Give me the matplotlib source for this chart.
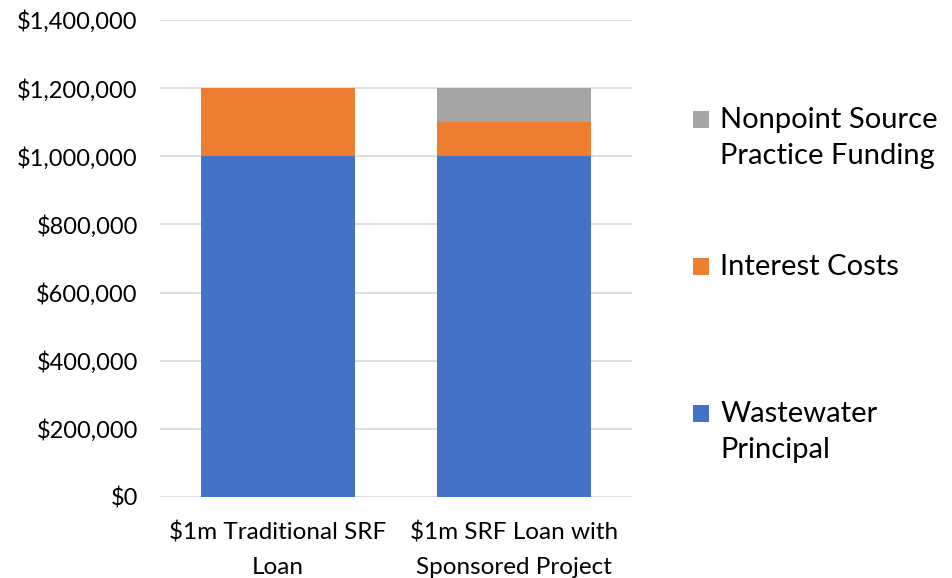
import matplotlib
matplotlib.use("Agg")
import matplotlib.pyplot as plt
from matplotlib.ticker import FuncFormatter
from matplotlib.patches import Rectangle
from matplotlib.container import BarContainer
from matplotlib.legend_handler import HandlerPatch, update_from_first_child

categories = ["$1m Traditional SRF\nLoan", "$1m SRF Loan with\nSponsored Project"]
principal = [1000000, 1000000]
interest = [200000, 100000]
nonpoint = [0, 100000]
series_labels = ["Wastewater\nPrincipal", "Interest Costs\n", "Nonpoint Source\nPractice Funding"]
colors = ["#4472C4", "#ED7D31", "#A5A5A5"]
yticks = [0, 200000, 400000, 600000, 800000, 1000000, 1200000, 1400000]

plt.rcParams['font.family'] = ['Lato', 'DejaVu Sans']

fig = plt.figure(figsize=(9.53, 5.78), dpi=100)
ax = fig.add_axes([160/953, 1-497/578, 472/953, 477/578])

x = list(range(len(categories)))
w = 0.65
b1 = ax.bar(x, principal, w, color=colors[0], label=series_labels[0], zorder=3)
bottom2 = [p for p in principal]
b2 = ax.bar(x, interest, w, bottom=bottom2, color=colors[1], label=series_labels[1], zorder=3)
bottom3 = [p + i for p, i in zip(principal, interest)]
b3 = ax.bar(x, nonpoint, w, bottom=bottom3, color=colors[2], label=series_labels[2], zorder=3)

ax.set_xlim(-0.5, len(categories) - 0.5)
ax.set_ylim(0, 1400000)
ax.set_yticks(yticks)
ax.yaxis.set_major_formatter(FuncFormatter(lambda v, p: "${:,.0f}".format(v)))
ax.set_xticks(x)
ax.set_xticklabels(categories, fontsize=17.5, linespacing=1.78)
ax.tick_params(axis='y', labelsize=17, length=0, pad=16)
ax.tick_params(axis='x', length=0, pad=18)
ax.grid(axis='y', color='#D9D9D9', linewidth=1.2, zorder=0)
for s in ax.spines.values():
    s.set_visible(False)

LEG_FS = 21
LEG_LS = 1.49
SHIFT = 13.5  # aligns swatch with first text line (points)


def square_patch(legend, orig_handle, xdescent, ydescent, width, height, fontsize):
    return Rectangle((-xdescent, -ydescent + SHIFT), width, height)


handler = HandlerPatch(patch_func=square_patch, update_func=update_from_first_child)
handles = [b3, b2, b1]
leg = fig.legend(handles, [series_labels[2], series_labels[1], series_labels[0]],
                 loc='center left', bbox_to_anchor=(667/953, 1-285/578),
                 frameon=False, fontsize=LEG_FS, labelspacing=2.9,
                 handlelength=0.55, handleheight=0.55, handletextpad=0.38,
                 handler_map={BarContainer: handler})
for t in leg.get_texts():
    t.set_linespacing(LEG_LS)

fig.savefig("out.png", dpi=100)
